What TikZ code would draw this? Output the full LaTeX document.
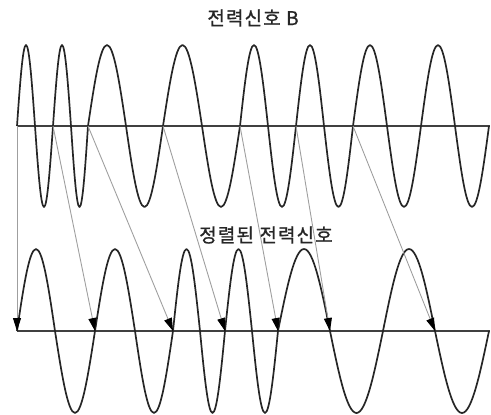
\documentclass[tikz,border=0pt]{standalone}
\usepackage{fontspec}
\newfontfamily\kofont[FakeBold=1,LetterSpace=6]{Noto Sans CJK KR}
\usetikzlibrary{arrows.meta}

\begin{document}
\begin{tikzpicture}[x=1pt,y=-1pt,
  wave/.style={line width=1.7pt,black!85,line join=round},
  axis/.style={line width=1.2pt,black!75},
  link/.style={gray!75,line width=0.9pt,-{Triangle[length=13pt,width=8pt,black]}},
  sigtext/.style={font=\kofont\fontsize{19}{23}\selectfont,text=black!85}]
\useasboundingbox (0,0) rectangle (491,415);

% labels
\node[sigtext] (titleB) at (253,18) {전력신호 B};
\node[sigtext] (sorted) at (266,235) {정렬된 전력신호};

% axes
\coordinate (topL) at (17,126);
\coordinate (topR) at (490,126);
\coordinate (botL) at (17,331);
\coordinate (botR) at (490,331);
\draw[axis] (topL) -- (topR);
\draw[axis] (botL) -- (botR);

% signal B
\draw[wave] (topL) foreach \a/\b/\s in {17/35/1,35/53/-1,53/71/1,71/88/-1,88/126/1,126/163/-1,
  163/202/1,202/240/-1,240/268/1,268/296/-1,296/324/1,324/353/-1,353/387/1,387/421/-1,421/455/1,455/489/-1}
  { sin ({(\a+\b)/2},{126-81*\s}) cos (\b,126) };

% sorted signal
\draw[wave] (botL) foreach \a/\b/\s in {17/55/1,55/95/-1,95/135/1,135/173/-1,173/200/1,200/225/-1,
  225/252/1,252/278/-1,278/330/1,330/383/-1,383/435/1,435/489/-1}
  { sin ({(\a+\b)/2},{331-82*\s}) cos (\b,331) };

% crossings
\foreach \x [count=\i] in {17,53,88,163,240,296,353}
  \coordinate (t\i) at (\x,126);
\foreach \x [count=\i] in {17,95,173,225,278,330,435}
  \coordinate (b\i) at (\x,331);
\foreach \i in {1,...,7}
  \draw[link] (t\i) -- (b\i);
\end{tikzpicture}
\end{document}
